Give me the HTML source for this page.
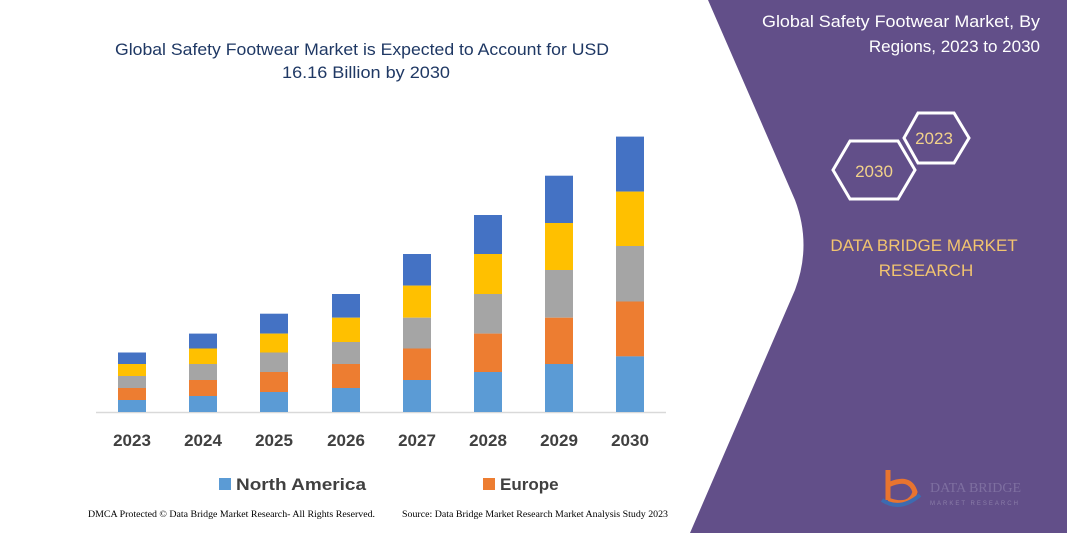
<!DOCTYPE html>
<html><head><meta charset="utf-8"><style>
body{margin:0;width:1067px;height:533px;overflow:hidden;background:#fff;font-family:"Liberation Sans",sans-serif;}
</style></head><body>
<svg width="1067" height="533" viewBox="0 0 1067 533" xmlns="http://www.w3.org/2000/svg" style="position:absolute;left:0;top:0">
<path d="M708,0 L1067,0 L1067,533 L690,533 L795,290 Q812,245 795,200 Z" fill="#624f89"/>
<text x="1040" y="27" fill="#fff" font-size="17" text-anchor="end" textLength="278" lengthAdjust="spacingAndGlyphs">Global Safety Footwear Market, By</text>
<text x="1040" y="52" fill="#fff" font-size="17" text-anchor="end">Regions, 2023 to 2030</text>
<polygon points="904,138 918,113 954,113 969,138 954,163 918,163" fill="none" stroke="#fff" stroke-width="3"/>
<polygon points="833,170 850,141 898,141 915,170 898,199 850,199" fill="#624f89" stroke="#fff" stroke-width="3"/>
<text x="934" y="144" fill="#f2d28a" font-size="17" text-anchor="middle">2023</text>
<text x="874" y="177" fill="#f2d28a" font-size="17" text-anchor="middle">2030</text>
<text x="924" y="251" fill="#f2c46f" font-size="17" text-anchor="middle">DATA BRIDGE MARKET</text>
<text x="926" y="276" fill="#f2c46f" font-size="17" text-anchor="middle">RESEARCH</text>
<path d="M888,470 L888,500 M888,485 Q910,475 915,492 Q910,508 888,500" fill="none" stroke="#e8742f" stroke-width="5"/>
<path d="M882,500 Q900,512 920,495" fill="none" stroke="#3d6bb0" stroke-width="4"/>
<text x="930" y="492" fill="#7e6fa0" font-size="14" font-family="Liberation Serif, serif">DATA BRIDGE</text>
<text x="930" y="505" fill="#8a7da8" font-size="6" letter-spacing="2">MARKET RESEARCH</text>

<text x="115" y="55" fill="#1f3864" font-size="17" textLength="494" lengthAdjust="spacingAndGlyphs">Global Safety Footwear Market is Expected to Account for USD</text>
<text x="282" y="78" fill="#1f3864" font-size="17" textLength="168" lengthAdjust="spacingAndGlyphs">16.16 Billion by 2030</text>
<line x1="96" y1="412.5" x2="666" y2="412.5" stroke="#d9d9d9" stroke-width="1.5"/>
<g id="bars"></g>
<g font-size="17" font-weight="bold" fill="#404040" text-anchor="middle">
<text x="132" y="446">2023</text><text x="203" y="446">2024</text><text x="274" y="446">2025</text><text x="346" y="446">2026</text><text x="417" y="446">2027</text><text x="488" y="446">2028</text><text x="559" y="446">2029</text><text x="630" y="446">2030</text>
</g>
<rect x="219" y="478" width="12" height="12" fill="#5b9bd5"/>
<text x="236" y="490" font-size="17" font-weight="bold" fill="#404040" textLength="130" lengthAdjust="spacingAndGlyphs">North America</text>
<rect x="483" y="478" width="12" height="12" fill="#ed7d31"/>
<text x="500" y="490" font-size="17" font-weight="bold" fill="#404040">Europe</text>
<text x="88" y="517" font-size="9" fill="#000" font-family="Liberation Serif, serif" textLength="287" lengthAdjust="spacingAndGlyphs">DMCA Protected © Data Bridge Market Research- All Rights Reserved.</text>
<text x="402" y="517" font-size="9" fill="#000" font-family="Liberation Serif, serif" textLength="266" lengthAdjust="spacingAndGlyphs">Source: Data Bridge Market Research Market Analysis Study 2023</text>
</svg>
<script>
var d=[[118,352.5,364,376,388,400],[189,333.6,348.5,364,380,396],[260,313.7,333.6,352.5,372,392],[332,294,317.7,342,364,388],[403,254,285.6,317.7,348.5,380],[474,215,254,294,333.6,372],[545,175.7,223,270,317.7,364],[616,136.6,191.6,246,301.5,356.4]];
var c=["#4472c4","#ffc000","#a5a5a5","#ed7d31","#5b9bd5"],s="";
d.forEach(function(b){var y=b.slice(1).concat([412]);for(var i=0;i<5;i++)s+='<rect x="'+b[0]+'" y="'+y[i]+'" width="28" height="'+(y[i+1]-y[i])+'" fill="'+c[i]+'"/>';});
document.getElementById("bars").innerHTML=s;
</script>
</body></html>
